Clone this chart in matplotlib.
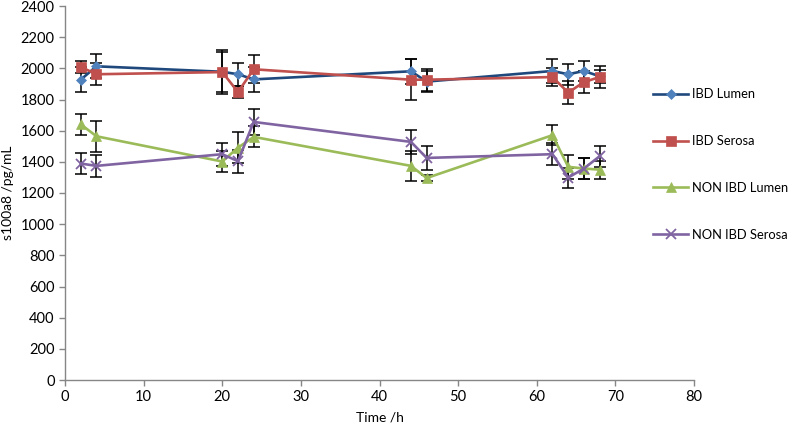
import matplotlib
matplotlib.use("Agg")
import matplotlib.pyplot as plt

plt.rcParams['font.family'] = ['Lato', 'DejaVu Sans']

time_h = [2, 4, 20, 22, 24, 44, 46, 62, 64, 66, 68]

ibd_lumen = [1927, 2013, 1978, 1962, 1929, 1981, 1915, 1983, 1962, 1983, 1949]
ibd_lumen_err = [80, 78, 140, 75, 81, 80, 70, 75, 68, 62, 40]

ibd_serosa = [2009, 1962, 1976, 1848, 1994, 1927, 1927, 1944, 1844, 1912, 1944]
ibd_serosa_err = [40, 70, 130, 40, 90, 132, 70, 60, 75, 68, 70]

non_lumen = [1641, 1564, 1402, 1491, 1560, 1374, 1296, 1571, 1368, 1357, 1350]
non_lumen_err = [66, 100, 66, 100, 68, 98, 20, 64, 75, 70, 58]

non_serosa = [1389, 1374, 1449, 1404, 1656, 1528, 1425, 1449, 1299, 1357, 1436]
non_serosa_err = [70, 73, 73, 73, 85, 75, 75, 70, 64, 70, 66]

series_names = ["IBD Lumen", "IBD Serosa", "NON IBD Lumen", "NON IBD Serosa"]

fig = plt.figure(figsize=(7.96, 4.30), dpi=100)
ax = fig.add_axes([65/796, 1-380/430, (694-65)/796, (380-6)/430])

styles = [
    (ibd_lumen, ibd_lumen_err, '#1F497D', '#4F81BD', 'D', 5, '#4F81BD'),
    (ibd_serosa, ibd_serosa_err, '#C0504D', '#C0504D', 's', 7, '#C0504D'),
    (non_lumen, non_lumen_err, '#9BBB59', '#9BBB59', '^', 7.5, '#9BBB59'),
    (non_serosa, non_serosa_err, '#8064A2', '#8064A2', 'x', 7, '#8064A2'),
]

for (vals, errs, lc, mc, mk, ms, mec), name in zip(styles, series_names):
    ax.errorbar(time_h, vals, yerr=errs, fmt='none', ecolor='black',
                elinewidth=1.1, capsize=4, capthick=1.1, zorder=2)
for (vals, errs, lc, mc, mk, ms, mec), name in zip(styles, series_names):
    ax.plot(time_h, vals, color=lc, lw=1.9, marker=mk, markersize=ms,
            markerfacecolor=mc, markeredgecolor=mec, markeredgewidth=1.3 if mk == 'x' else 0.5,
            label=name, zorder=3)

ax.set_xlim(0, 80)
ax.set_ylim(0, 2400)
ax.set_xticks(range(0, 81, 10))
ax.set_yticks(range(0, 2401, 200))
for s in ['top', 'right']:
    ax.spines[s].set_visible(False)
for s in ['left', 'bottom']:
    ax.spines[s].set_color('#868686')
    ax.spines[s].set_linewidth(1.0)
ax.tick_params(axis='both', colors='#868686', length=4, width=1.0, labelsize=10.5,
               labelcolor='black', direction='out')
ax.set_xlabel("Time /h", fontsize=10, labelpad=5)
ax.set_ylabel("s100a8 /pg/mL", fontsize=10, labelpad=5)

leg = ax.legend(loc='upper left', bbox_to_anchor=(648/796, 1-83/430),
                bbox_transform=fig.transFigure, frameon=False, fontsize=9.3,
                labelspacing=2.7, handlelength=2.7, handletextpad=0.3, borderaxespad=0)

fig.savefig("out.png", dpi=100)
